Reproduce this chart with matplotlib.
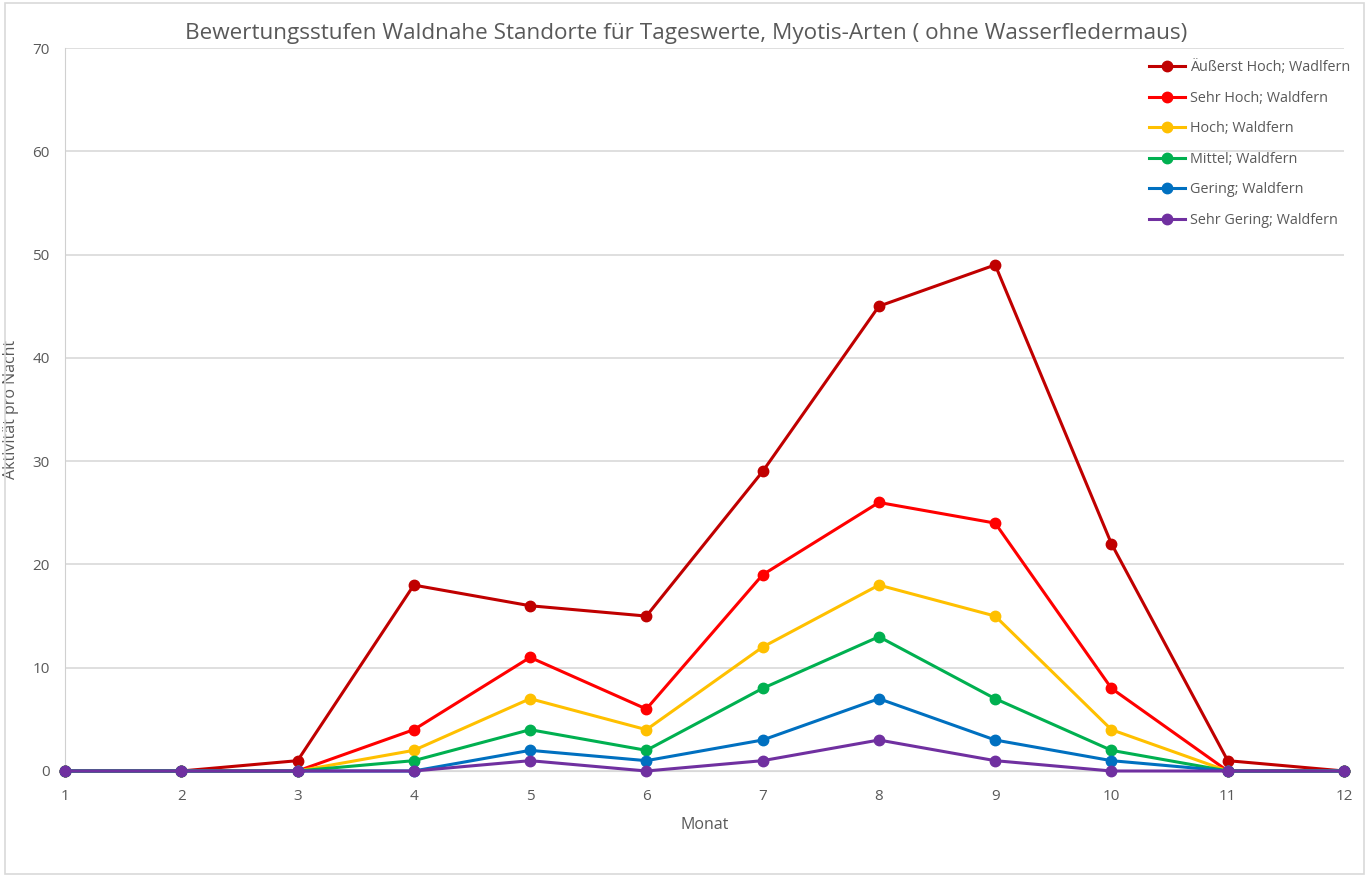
import matplotlib.pyplot as plt
from matplotlib.patches import Rectangle

months = [1, 2, 3, 4, 5, 6, 7, 8, 9, 10, 11, 12]

aeusserst_hoch = [0, 0, 1, 18, 16, 15, 29, 45, 49, 22, 1, 0]
sehr_hoch = [0, 0, 0, 4, 11, 6, 19, 26, 24, 8, 0, 0]
hoch = [0, 0, 0, 2, 7, 4, 12, 18, 15, 4, 0, 0]
mittel = [0, 0, 0, 1, 4, 2, 8, 13, 7, 2, 0, 0]
gering = [0, 0, 0, 0, 2, 1, 3, 7, 3, 1, 0, 0]
sehr_gering = [0, 0, 0, 0, 1, 0, 1, 3, 1, 0, 0, 0]

labels = ["Äußerst Hoch; Wadlfern", "Sehr Hoch; Waldfern", "Hoch; Waldfern",
          "Mittel; Waldfern", "Gering; Waldfern", "Sehr Gering; Waldfern"]
colors = ["#C00000", "#FF0000", "#FFC000", "#00B050", "#0070C0", "#7030A0"]

plt.rcParams['font.family'] = ['Open Sans', 'DejaVu Sans']
txt = "#595959"

fig = plt.figure(figsize=(13.72, 8.76), dpi=100)
fig.patches.append(Rectangle((5 / 1372, 2 / 876), 1359 / 1372, 871 / 876,
                             transform=fig.transFigure, fill=False,
                             edgecolor="#D9D9D9", linewidth=1.2))
ax = fig.add_axes([65 / 1372, 105 / 876, 1279 / 1372, 723 / 876])

series = [aeusserst_hoch, sehr_hoch, hoch, mittel, gering, sehr_gering]
for vals, lab, col in zip(series, labels, colors):
    ax.plot(months, vals, color=col, lw=2.2, marker='o', markersize=7.5,
            label=lab, zorder=3, clip_on=False)

ax.set_xlim(1, 12)
ax.set_ylim(0, 70)
ax.set_xticks(months)
ax.set_yticks(range(0, 71, 10))
ax.grid(axis='y', color="#D9D9D9", lw=1.2)
ax.set_axisbelow(True)
for s in ['top', 'right']:
    ax.spines[s].set_visible(False)
ax.spines['left'].set_color("#D0D0D0")
ax.spines['bottom'].set_color("#D9D9D9")
ax.tick_params(length=0, colors=txt, labelsize=11)
ax.tick_params(axis='x', pad=13)
ax.tick_params(axis='y', pad=11)

fig.text(686 / 1372, 1 - 33 / 876,
         "Bewertungsstufen Waldnahe Standorte für Tageswerte, Myotis-Arten ( ohne Wasserfledermaus)",
         fontsize=16.2, color=txt, ha='center', va='center')
ax.set_xlabel("Monat", fontsize=11.5, color=txt)
ax.set_ylabel("Aktivität pro Nacht", fontsize=11.5, color=txt)
ax.xaxis.set_label_coords(0.5, -0.063)
ax.yaxis.set_label_coords(-0.036, 0.5)

fig.legend(loc='upper left', bbox_to_anchor=(1136 / 1372, 1 - 47 / 876),
           frameon=False, fontsize=10.4, labelcolor=txt, handlelength=2.5,
           labelspacing=1.08, handletextpad=0.35)

fig.savefig("out.png", dpi=100)
